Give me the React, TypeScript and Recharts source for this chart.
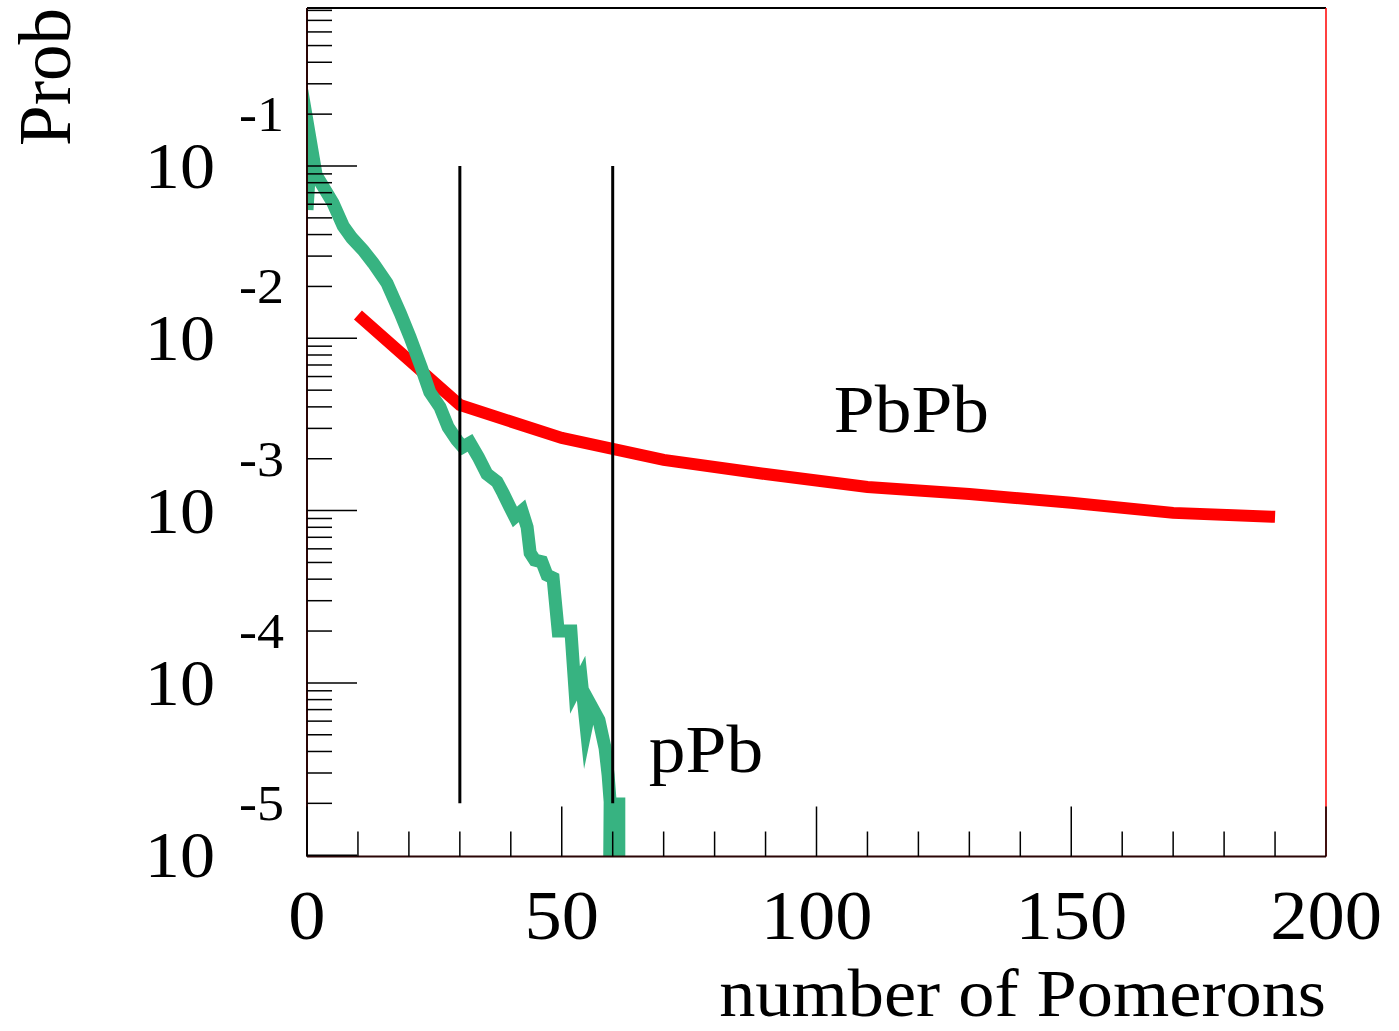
import React from 'react';
import { ComposedChart, Line, XAxis, YAxis, ReferenceLine, ReferenceDot } from 'recharts';

const SERIF = '"Liberation Serif", "Times New Roman", Times, serif';
const SX = 1.08; // glyphs in the reference are slightly wide

// ---- data -------------------------------------------------------------
const pbpbPomerons = [10, 30, 50, 70, 90, 110, 130, 150, 170, 190];
const pbpbProb = [0.01365, 0.0041, 0.00264, 0.00197, 0.00163, 0.00137, 0.00125, 0.00111, 0.00097, 0.00092];

const PROB_FLOOR = 1e-7; // empty bins: fall below the axis and are clipped

const ppbPomerons = [
  0, 0.8, 1.8, 5.1, 7.1, 8.8, 11.0, 13.0, 15.7, 18.3, 20.2, 22.4, 24.1, 26.1, 27.7, 29.4,
  30.6, 32.0, 33.6, 35.3, 37.3, 38.5, 39.8, 40.8, 42.2, 43.2, 43.8, 44.7, 46.1, 47.1, 48.3,
  49.3, 51.8, 52.6, 53.8, 54.8, 55.7, 57.3, 58.5, 59.1, 59.5, 58.9, 60.1, 60.1, 61.2, 61.2,
];
const ppbProb = [
  0.0556, 0.1324, 0.0887, 0.061, 0.0449, 0.0382, 0.0325, 0.0273, 0.0209, 0.014, 0.0102, 0.00681,
  0.00487, 0.00399, 0.00305, 0.00257, 0.00234, 0.00247, 0.00205, 0.00163, 0.00147, 0.00126,
  0.00105, 0.000918, 0.000996, 0.000803, 0.000568, 0.000516, 0.000504, 0.000423, 0.000406,
  0.0002, 0.0002, 0.000091, 0.0001067, 0.0000555, 0.0000744, 0.0000609, 0.0000419, 0.0000292,
  0.0000204, PROB_FLOOR, PROB_FLOOR, 0.0000198, 0.0000198, PROB_FLOOR,
];

const xDomain = [0, 200];
const xTickValues = [0, 10, 20, 30, 40, 50, 60, 70, 80, 90, 100, 110, 120, 130, 140, 150, 160, 170, 180, 190, 200];
const xMajorStep = 50;
const yDomain = [Math.pow(10, -5.0075), Math.pow(10, -0.083)];
const yDecadeExponents = [-5, -4, -3, -2, -1];
const yMantissas = [1, 2, 3, 4, 5, 6, 7, 8, 9];
const cutPomerons = [30, 60];
const cutProbRange = [0.1, 2.0e-5];
const seriesLabels = [
  { text: 'PbPb', x: 103.4, p: 0.002858 },
  { text: 'pPb', x: 67.1, p: 3.04e-5 },
];

const pbpbData = pbpbPomerons.map((x, i) => ({ x, p: pbpbProb[i] }));
const ppbData = ppbPomerons.map((x, i) => ({ x, p: ppbProb[i] }));
const yTickValues = yDecadeExponents
  .flatMap((e) => yMantissas.map((m) => m * Math.pow(10, e)))
  .filter((v) => v <= yDomain[1]);

// ---- layout -----------------------------------------------------------
const W = 1399;
const H = 1031;
const M = { top: 8, right: 73, bottom: 173.5, left: 306 };
const AXIS_SIZE = 1;
const PLOT_LEFT = M.left + AXIS_SIZE;
const PLOT_W = W - PLOT_LEFT - M.right;
const PLOT_H = H - M.top - M.bottom - AXIS_SIZE;

const StretchText = ({ x, y, size, anchor, children }: any) => (
  <g transform={`translate(${x},${y}) scale(${SX},1)`}>
    <text x={0} y={0} fontFamily={SERIF} fontSize={size} textAnchor={anchor} fill="#000">
      {children}
    </text>
  </g>
);

const XTick = (props: any) => {
  const { x, y, payload } = props;
  const v = payload.value;
  const major = v % xMajorStep === 0;
  return (
    <g>
      <line x1={x} x2={x} y1={y} y2={y - (major ? 50 : 25)} stroke="#000" strokeWidth={1.5} />
      {major && (
        <StretchText x={x} y={y + 82} size={69} anchor="middle">
          {String(v)}
        </StretchText>
      )}
    </g>
  );
};

const YTick = (props: any) => {
  const { x, y, payload } = props;
  const v = payload.value;
  const lg = Math.log10(v);
  const e = Math.round(lg);
  const major = Math.abs(lg - e) < 1e-6;
  return (
    <g>
      <line x1={x} x2={x + (major ? 50 : 25)} y1={y} y2={y} stroke="#000" strokeWidth={1.5} />
      {major && (
        <g>
          <StretchText x={x - 92} y={y + 22} size={65} anchor="end">
            10
          </StretchText>
          <StretchText x={x - 68} y={y - 35} size={50} anchor="start">
            {String(e)}
          </StretchText>
        </g>
      )}
    </g>
  );
};

const XTitle = () => (
  <StretchText x={PLOT_LEFT + PLOT_W} y={M.top + PLOT_H + 159} size={67} anchor="end">
    number of Pomerons
  </StretchText>
);

const YTitle = () => {
  const bx = PLOT_LEFT - 237;
  const by = M.top;
  return (
    <text
      x={bx}
      y={by}
      transform={`rotate(-90, ${bx}, ${by})`}
      fontFamily={SERIF}
      fontSize={73}
      textAnchor="end"
      fill="#000"
    >
      Prob
    </text>
  );
};

const makeLabelShape = (text: string) => (props: any) => (
  <StretchText x={props.cx} y={props.cy} size={68} anchor="start">
    {text}
  </StretchText>
);

export default function App() {
  return (
    <div style={{ position: 'absolute', left: 0, top: 0, width: W, height: H, background: '#fff' }}>
      <ComposedChart width={W} height={H} margin={M}>
        <XAxis
          dataKey="x"
          type="number"
          domain={xDomain}
          allowDataOverflow
          ticks={xTickValues}
          interval={0}
          tickSize={0}
          tickMargin={0}
          height={AXIS_SIZE}
          tickLine={false}
          axisLine={{ stroke: '#2a0505', strokeWidth: 2 }}
          tick={XTick}
          label={XTitle}
        />
        <YAxis
          type="number"
          scale="log"
          domain={yDomain}
          allowDataOverflow
          ticks={yTickValues}
          interval={0}
          tickSize={0}
          tickMargin={0}
          width={AXIS_SIZE}
          tickLine={false}
          axisLine={{ stroke: '#2a0505', strokeWidth: 2 }}
          tick={YTick}
          label={YTitle}
        />
        <Line
          data={pbpbData}
          dataKey="p"
          type="linear"
          stroke="#ff0000"
          strokeWidth={12}
          strokeLinejoin="miter"
          strokeMiterlimit={30}
          dot={false}
          activeDot={false}
          isAnimationActive={false}
        />
        <Line
          data={ppbData}
          dataKey="p"
          type="linear"
          stroke="#37b381"
          strokeWidth={13}
          strokeLinejoin="miter"
          strokeMiterlimit={12}
          dot={false}
          activeDot={false}
          isAnimationActive={false}
        />
        {cutPomerons.map((c) => (
          <ReferenceLine
            key={c}
            segment={[
              { x: c, y: cutProbRange[0] },
              { x: c, y: cutProbRange[1] },
            ]}
            stroke="#000"
            strokeWidth={3}
          />
        ))}
        <ReferenceLine y={yDomain[1]} stroke="#000" strokeWidth={2} ifOverflow="visible" />
        <ReferenceLine x={xDomain[1]} stroke="#ff0000" strokeWidth={1.5} ifOverflow="visible" />
        {seriesLabels.map((l) => (
          <ReferenceDot key={l.text} x={l.x} y={l.p} r={1} shape={makeLabelShape(l.text)} />
        ))}
      </ComposedChart>
    </div>
  );
}
